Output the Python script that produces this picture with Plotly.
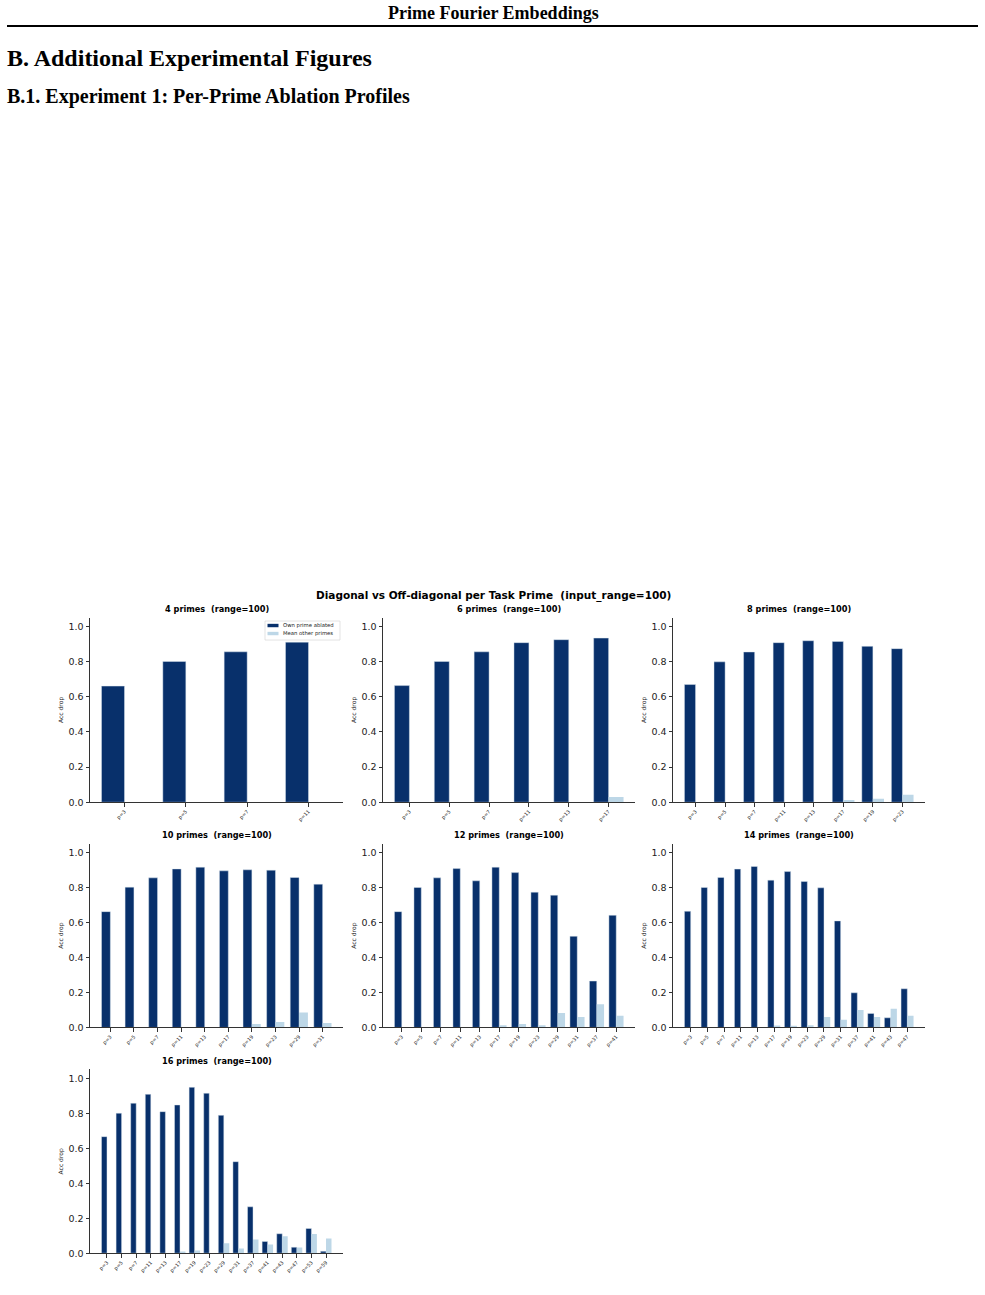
import plotly.graph_objects as go

# ---------------- data ----------------
primes_all = [3, 5, 7, 11, 13, 17, 19, 23, 29, 31, 37, 41, 43, 47, 53, 59]
n_primes = [4, 6, 8, 10, 12, 14, 16]

own_4 = [0.660, 0.800, 0.855, 0.910]
other_4 = [0.0, 0.0, 0.0, 0.0]

own_6 = [0.663, 0.800, 0.855, 0.907, 0.924, 0.933]
other_6 = [0.0, 0.0, 0.0, 0.0, 0.0, 0.030]

own_8 = [0.669, 0.798, 0.854, 0.907, 0.918, 0.914, 0.886, 0.873]
other_8 = [0.0, 0.0, 0.0, 0.0, 0.0, 0.013, 0.019, 0.042]

own_10 = [0.662, 0.802, 0.855, 0.906, 0.916, 0.895, 0.901, 0.899, 0.857, 0.819]
other_10 = [0.0, 0.0, 0.0, 0.0, 0.0, 0.0, 0.019, 0.031, 0.086, 0.025]

own_12 = [0.662, 0.800, 0.855, 0.908, 0.838, 0.916, 0.885, 0.773, 0.756, 0.521, 0.265, 0.641]
other_12 = [0.0, 0.0, 0.0, 0.0, 0.0, 0.013, 0.019, 0.013, 0.082, 0.059, 0.132, 0.067]

own_14 = [0.664, 0.800, 0.857, 0.905, 0.920, 0.842, 0.891, 0.834, 0.798, 0.609, 0.198, 0.080, 0.055, 0.221]
other_14 = [0.0, 0.0, 0.0, 0.0, 0.0, 0.011, 0.006, 0.013, 0.059, 0.044, 0.099, 0.059, 0.107, 0.067]

own_16 = [0.666, 0.800, 0.857, 0.908, 0.809, 0.847, 0.948, 0.914, 0.788, 0.523, 0.265, 0.067, 0.111, 0.034, 0.141, 0.011]
other_16 = [0.0, 0.0, 0.0, 0.0, 0.0, 0.004, 0.015, 0.0, 0.057, 0.027, 0.078, 0.050, 0.097, 0.032, 0.109, 0.084]

own_all = [own_4, own_6, own_8, own_10, own_12, own_14, own_16]
other_all = [other_4, other_6, other_8, other_10, other_12, other_14, other_16]

yticks = [0.0, 0.2, 0.4, 0.6, 0.8, 1.0]
input_range = 100
legend_labels = ["Own prime ablated", "Mean other primes"]

# ---------------- layout helpers ----------------
W, H = 985, 1295
DARK = "#08306b"
LIGHT = "#bdd7e7"
SPINE = "#333333"

def px(x):
    return x / W

def py(y):
    # empirical correction so page-pixel positions land where intended
    return 1 - (26 + (y - 26) / 0.9951) / H

col_px = [(90, 343), (383, 635), (673, 925)]
row_px = [(617, 801.5), (843, 1026.5), (1068.5, 1252)]
BAR_W = 0.375

fig = go.Figure()
annotations = []
shapes = []

for i, (n, own, other) in enumerate(zip(n_primes, own_all, other_all)):
    r, c = divmod(i, 3)
    idx = i + 1
    xa = "x" if idx == 1 else f"x{idx}"
    ya = "y" if idx == 1 else f"y{idx}"
    cats = [f"p={p}" for p in primes_all[:n]]
    fig.add_trace(go.Bar(
        x=cats, y=own, name=legend_labels[0], marker_color=DARK,
        marker_line=dict(color="rgba(220,230,240,0.9)", width=0.5),
        xaxis=xa, yaxis=ya, showlegend=False, offsetgroup="own"))
    fig.add_trace(go.Bar(
        x=cats, y=other, name=legend_labels[1], marker_color=LIGHT,
        marker_line=dict(width=0),
        xaxis=xa, yaxis=ya, showlegend=False, offsetgroup="other"))
    m = 0.05 * (n - 1 + 2 * BAR_W)
    xr = [-BAR_W - m, n - 1 + BAR_W + m]
    x0, x1 = col_px[c]
    y0, y1 = row_px[r]
    xkey = "xaxis" if idx == 1 else f"xaxis{idx}"
    ykey = "yaxis" if idx == 1 else f"yaxis{idx}"
    fig.layout[xkey] = dict(
        domain=[px(x0), px(x1)], anchor=ya, type="category",
        categoryorder="array", categoryarray=cats, range=xr,
        showline=True, linecolor=SPINE, linewidth=1, mirror=False,
        ticks="outside", ticklen=3.5, tickwidth=0.8, tickcolor=SPINE,
        tickangle=-45, tickfont=dict(family="DejaVu Sans", size=5, color="#222"),
        showgrid=False, zeroline=False, fixedrange=True)
    fig.layout[ykey] = dict(
        domain=[py(y1), py(y0)], anchor=xa, range=[0, 1.05],
        tickvals=yticks, ticktext=[f"{v:.1f}" for v in yticks],
        showline=True, linecolor=SPINE, linewidth=1,
        ticks="outside", ticklen=3.5, tickwidth=0.8, tickcolor=SPINE,
        tickfont=dict(family="DejaVu Sans", size=9.5, color="#222"),
        title=dict(text="Acc drop", font=dict(family="DejaVu Sans", size=6, color="#222"), standoff=4),
        showgrid=False, zeroline=False, fixedrange=True)
    annotations.append(dict(
        text=f"<b>{n} primes  (range={input_range})</b>", x=px((x0 + x1) / 2), y=py(y0 - 1.5),
        xref="paper", yref="paper", xanchor="center", yanchor="bottom", showarrow=False,
        font=dict(family="DejaVu Sans", size=8.2, color="black")))

# custom legend in first panel (box, swatches, labels)
shapes.append(dict(type="rect", xref="paper", yref="paper", x0=px(265), x1=px(340),
                   y0=py(639.5), y1=py(620.5), line=dict(color="#d0d0d0", width=0.6),
                   fillcolor="rgba(255,255,255,0.85)", layer="above"))
for k, (lab, col, yc) in enumerate(zip(legend_labels, [DARK, LIGHT], [625, 633])):
    shapes.append(dict(type="rect", xref="paper", yref="paper", x0=px(267.5), x1=px(278.5),
                       y0=py(yc + 1.7), y1=py(yc - 1.7), line=dict(width=0), fillcolor=col,
                       layer="above"))
    annotations.append(dict(text=lab, x=px(281.5), y=py(yc), xref="paper", yref="paper",
                            xanchor="left", yanchor="middle", showarrow=False, borderpad=0,
                            font=dict(family="DejaVu Sans", size=5.3, color="#222")))

# suptitle
annotations.append(dict(
    text=f"<b>Diagonal vs Off-diagonal per Task Prime  (input_range={input_range})</b>",
    x=px(493.5), y=py(595), xref="paper", yref="paper", xanchor="center", yanchor="middle",
    showarrow=False, font=dict(family="DejaVu Sans", size=10.5, color="black")))

# page header text
annotations.append(dict(
    text="<b>Prime Fourier Embeddings</b>", x=px(493), y=py(13), xref="paper", yref="paper",
    xanchor="center", yanchor="middle", showarrow=False,
    font=dict(family="Liberation Serif", size=18, color="black")))
annotations.append(dict(
    text="<b>B. Additional Experimental Figures</b>", x=px(5), y=py(58), xref="paper", yref="paper",
    xanchor="left", yanchor="middle", showarrow=False,
    font=dict(family="Liberation Serif", size=24, color="black")))
annotations.append(dict(
    text="<b>B.1. Experiment 1: Per-Prime Ablation Profiles</b>", x=px(5), y=py(97), xref="paper",
    yref="paper", xanchor="left", yanchor="middle", showarrow=False,
    font=dict(family="Liberation Serif", size=20, color="black")))

shapes.append(dict(type="line", xref="paper", yref="paper", x0=px(7), x1=px(978),
                   y0=py(26), y1=py(26), line=dict(color="black", width=2)))

fig.update_layout(
    width=W, height=H, margin=dict(l=0, r=0, t=0, b=0),
    paper_bgcolor="white", plot_bgcolor="white",
    barmode="group", bargap=0.25, bargroupgap=0.0,
    annotations=annotations, shapes=shapes,
    showlegend=False,
)

fig.write_html("out.html")
